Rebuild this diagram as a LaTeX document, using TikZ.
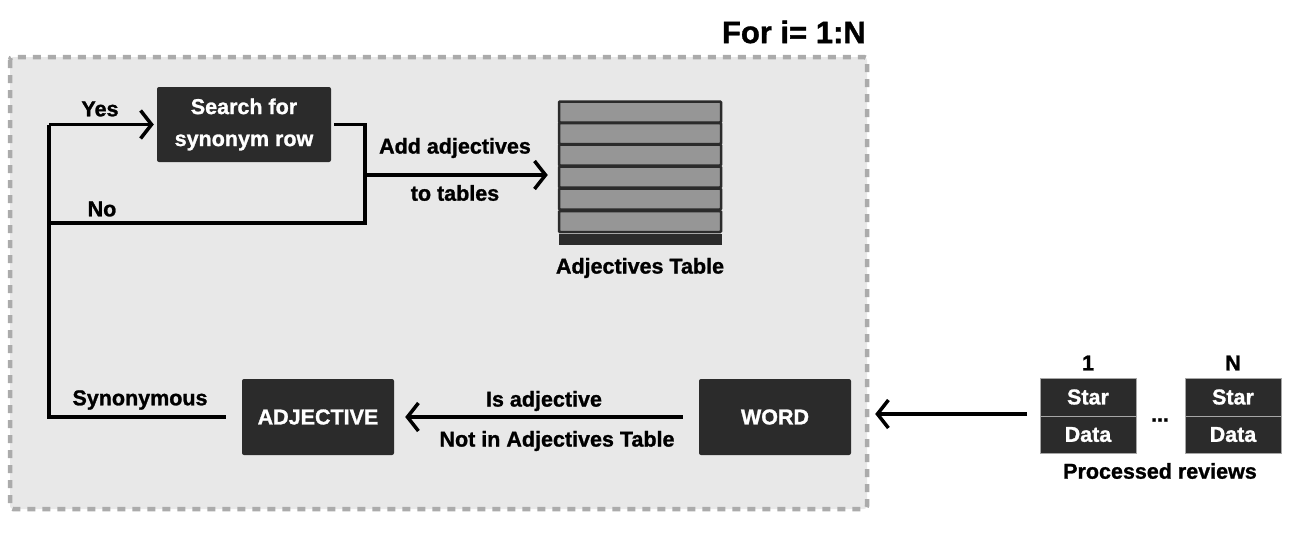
\documentclass[tikz,border=0pt]{standalone}
\usepackage{fontspec}
\setmainfont{Liberation Sans}[BoldFeatures={FakeBold=1.2}]
\usetikzlibrary{arrows.meta}
\definecolor{dark}{HTML}{2B2B2B}
\definecolor{panel}{HTML}{E8E8E8}
\definecolor{dashc}{HTML}{ABABAB}
\definecolor{rowc}{HTML}{969696}
\begin{document}
\begin{tikzpicture}[x=1pt,y=-1pt,
  lbl/.style={font=\bfseries\fontsize{21.5}{24}\selectfont, text=black, inner sep=0pt},
  darkbox/.style={fill=dark, rounded corners=2pt, text=white, align=center, inner sep=0pt,
    font=\bfseries\fontsize{21.5}{32}\selectfont},
  cell/.style={fill=dark, draw=gray!70, line width=0.8pt, text=white, inner sep=0pt,
    minimum width=96pt, font=\bfseries\fontsize{21.5}{24}\selectfont},
  rowbox/.style={fill=rowc, draw=dark, line width=2.5pt, minimum width=162pt, minimum height=21pt, inner sep=0pt, rounded corners=1pt},
  conn/.style={line width=3.5pt, draw=black},
  arr/.style={conn, -{Straight Barb[length=11pt, width=28pt, line width=3.5pt]}}
]
\useasboundingbox (0,0) rectangle (1309,533);
% panel
\draw[fill=panel, draw=dashc, line width=4.5pt, dash pattern=on 8pt off 7pt, rounded corners=3pt]
  (10,57) rectangle (867,509);
\node[lbl, font=\bfseries\fontsize{31}{36}\selectfont, anchor=east] (fori) at (866,32) {For i= 1:N};

% boxes
\node[darkbox, minimum width=174pt, minimum height=75pt] (search) at (244,124.5) {Search for\\synonym row};
\node[darkbox, minimum width=152pt, minimum height=76pt] (adjective) at (318,417) {ADJECTIVE};
\node[darkbox, minimum width=152pt, minimum height=76pt] (word) at (775,417) {WORD};

% table
\node[rowbox] (row1) at (640,112) {};
\node[rowbox] (row2) at (640,133.5) {};
\node[rowbox] (row3) at (640,155) {};
\node[rowbox] (row4) at (640,177) {};
\node[rowbox] (row5) at (640,199) {};
\node[rowbox] (row6) at (640,221.5) {};
\node[fill=dark, minimum width=163pt, minimum height=11pt, inner sep=0pt] (band) at (640,239) {};
\node[lbl] (adjtab) at (640,268) {Adjectives Table};

% reviews
\node[cell, minimum height=38pt] (star1) at (1088,397) {Star};
\node[cell, minimum height=37pt] (data1) at (1088,434.5) {Data};
\node[cell, minimum height=38pt] (starN) at (1233,397) {Star};
\node[cell, minimum height=37pt] (dataN) at (1233,434.5) {Data};
\node[lbl] (one) at (1088,363) {1};
\node[lbl] (nn) at (1233,363) {N};
\node[lbl] (dots) at (1160,420) {...};
\node[lbl] (proc) at (1160,471) {Processed reviews};

% labels
\node[lbl] (yes) at (100,109) {Yes};
\node[lbl] (no) at (102,209) {No};
\node[lbl] (syn) at (140,400) {Synonymous};
\node[lbl] (addadj) at (455,148) {Add adjectives};
\node[lbl] (totab) at (455,193) {to tables};
\node[lbl] (isadj) at (544,401) {Is adjective};
\node[lbl] (notin) at (557,441) {Not in Adjectives Table};

% junction coordinates
\coordinate (jTop) at (49,124.5);
\coordinate (jNo) at (49,223);
\coordinate (jBot) at (49,417);
\coordinate (rTop) at (365,124.5);
\coordinate (rBot) at (365,223);
\coordinate (rMid) at (365,175);
\coordinate (rv) at (1040,414);

% connectors
\draw[conn, shorten <=16pt, line join=miter] (adjective.west) -- (jBot) -- (jTop);
\draw[arr, shorten >=3pt] (jTop) -- (search.west);
\draw[conn, shorten <=3pt, line join=miter] (search.east) -- (rTop) -- (rBot) -- (jNo);
\draw[arr, shorten >=10pt] (rMid) -- (rMid -| row4.west);
\draw[arr, shorten <=16pt, shorten >=11pt] (word.west) -- (adjective.east);
\draw[arr, shorten <=13pt, shorten >=24pt] (rv) -- (rv -| word.east);
\end{tikzpicture}
\end{document}
